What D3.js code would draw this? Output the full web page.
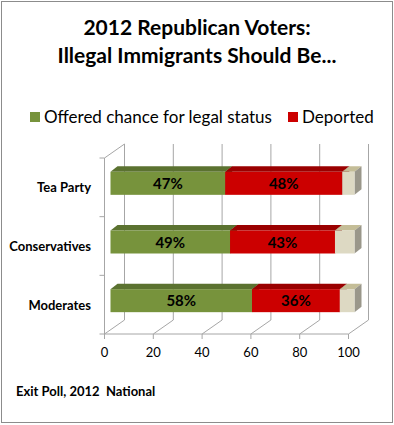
<!DOCTYPE html>
<html>
<head>
<meta charset="utf-8">
<script src="https://cdn.jsdelivr.net/npm/d3@7"></script>
<style>
  body { margin: 0; background: #fff; }
  svg { display: block; font-family: Lato, "Open Sans", sans-serif; }
</style>
</head>
<body>
<svg id="chart" width="394" height="425"></svg>
<script>
// data
var categories = ["Tea Party", "Conservatives", "Moderates"];
var legalStatus = [47, 49, 58];
var deported = [48, 43, 36];
var other = [5, 8, 6];
var xTicks = [0, 20, 40, 60, 80, 100];
var seriesNames = ["Offered chance for legal status", "Deported"];

var svg = d3.select("#chart");

// border
svg.append("rect")
    .attr("x", 1.5).attr("y", 1.5)
    .attr("width", 391).attr("height", 421)
    .attr("fill", "#fff")
    .attr("stroke", "#8c8c8c");

// title
svg.append("text")
    .attr("x", 197).attr("y", 35)
    .attr("text-anchor", "middle")
    .style("font-weight", "bold").style("font-size", "21px")
    .text("2012 Republican Voters:");
svg.append("text")
    .attr("x", 197).attr("y", 63)
    .attr("text-anchor", "middle")
    .style("font-weight", "bold").style("font-size", "21px")
    .text("Illegal Immigrants Should Be...");

// scales (front plane of the 3d box)
var x = d3.scaleLinear().domain([0, 100]).range([104.5, 348.5]);
var y = d3.scaleBand().domain(categories).range([158, 334]);
var wall = {dx: 20, dy: -14};   // back wall offset
var barOff = {dx: 6, dy: -4};   // bar front plane offset
var depth = {dx: 7, dy: -5.5};  // bar depth
var barH = 23;

var grid = "#a6a6a6";
var g = svg.append("g");

// back wall gridlines
g.selectAll(".vgrid")
  .data(xTicks)
  .enter().append("line")
    .attr("x1", function(d) { return x(d) + wall.dx; })
    .attr("x2", function(d) { return x(d) + wall.dx; })
    .attr("y1", 158 + wall.dy)
    .attr("y2", 334 + wall.dy)
    .attr("stroke", grid);

// floor lines
g.selectAll(".fgrid")
  .data(xTicks)
  .enter().append("line")
    .attr("x1", function(d) { return x(d); })
    .attr("y1", 334)
    .attr("x2", function(d) { return x(d) + wall.dx; })
    .attr("y2", 334 + wall.dy)
    .attr("stroke", grid);

// left wall
g.append("line")
    .attr("x1", x(0)).attr("x2", x(0))
    .attr("y1", 158).attr("y2", 334)
    .attr("stroke", grid);
g.append("line")
    .attr("x1", x(0)).attr("y1", 158)
    .attr("x2", x(0) + wall.dx).attr("y2", 158 + wall.dy)
    .attr("stroke", grid);

// front floor edge + ticks
g.append("line")
    .attr("x1", x(0)).attr("x2", x(100))
    .attr("y1", 334).attr("y2", 334)
    .attr("stroke", grid);
g.selectAll(".xtick")
  .data(xTicks)
  .enter().append("line")
    .attr("x1", function(d) { return x(d); })
    .attr("x2", function(d) { return x(d); })
    .attr("y1", 334).attr("y2", 339)
    .attr("stroke", grid);

// category ticks on the left wall
g.selectAll(".ytick")
  .data([158, 158 + y.step(), 158 + 2 * y.step(), 334])
  .enter().append("line")
    .attr("x1", x(0) - 5).attr("x2", x(0))
    .attr("y1", function(d) { return d; })
    .attr("y2", function(d) { return d; })
    .attr("stroke", grid);

// x labels
svg.selectAll(".xlab")
  .data(xTicks)
  .enter().append("text")
    .attr("x", function(d) { return x(d); })
    .attr("y", 357)
    .attr("text-anchor", "middle")
    .style("font-size", "13px")
    .text(function(d) { return d; });

// category labels
svg.selectAll(".ylab")
  .data(categories)
  .enter().append("text")
    .attr("x", 91)
    .attr("y", function(d) { return y(d) + y.bandwidth() / 2 + 5; })
    .attr("text-anchor", "end")
    .style("font-weight", "bold").style("font-size", "13px")
    .text(function(d) { return d; });

// bars
var colors = [
  {front: "#77933c", top: "#5b7230", side: "#4f6228"},
  {front: "#cc0000", top: "#9a0000", side: "#800000"},
  {front: "#ddd9c3", top: "#c4bd97", side: "#9a978a"}
];

var segs = [];
categories.forEach(function(c, i) {
  var vals = [legalStatus[i], deported[i], other[i]];
  var start = 0;
  vals.forEach(function(v, k) {
    segs.push({cat: c, k: k, x0: start, x1: start + v, v: v});
    start += v;
  });
});

function face(pts) {
  return "M" + pts.map(function(p) { return p.join(","); }).join("L") + "Z";
}

var bars = svg.append("g");
segs.forEach(function(s) {
  var x0 = x(s.x0) + barOff.dx, x1 = x(s.x1) + barOff.dx;
  var yt = y(s.cat) + y.bandwidth() / 2 - barH / 2 + barOff.dy, yb = yt + barH;
  var c = colors[s.k];
  bars.append("path")
      .attr("d", face([[x0, yt], [x1, yt], [x1 + depth.dx, yt + depth.dy], [x0 + depth.dx, yt + depth.dy]]))
      .attr("fill", c.top);
  bars.append("path")
      .attr("d", face([[x1, yt], [x1 + depth.dx, yt + depth.dy], [x1 + depth.dx, yb + depth.dy], [x1, yb]]))
      .attr("fill", c.side);
  bars.append("rect")
      .attr("x", x0).attr("y", yt)
      .attr("width", x1 - x0).attr("height", barH)
      .attr("fill", c.front);
  if (s.k < 2) {
    bars.append("text")
        .attr("x", (x0 + x1) / 2)
        .attr("y", yt + barH / 2 + 5.5)
        .attr("text-anchor", "middle")
        .style("font-weight", "bold").style("font-size", "15px")
        .attr("fill", "#000")
        .text(s.v + "%");
  }
});

// legend
var legend = svg.append("g").style("font-size", "17px");
var legX = [30, 288];
seriesNames.forEach(function(n, i) {
  legend.append("rect")
      .attr("x", legX[i]).attr("y", 112)
      .attr("width", 10).attr("height", 10)
      .attr("fill", colors[i].front);
  legend.append("text")
      .attr("x", legX[i] + 14).attr("y", 123)
      .text(n);
});

// footer
svg.append("text")
    .attr("x", 16).attr("y", 396)
    .style("font-weight", "bold").style("font-size", "13px")
    .attr("xml:space", "preserve")
    .text("Exit Poll, 2012  National");
</script>
</body>
</html>
